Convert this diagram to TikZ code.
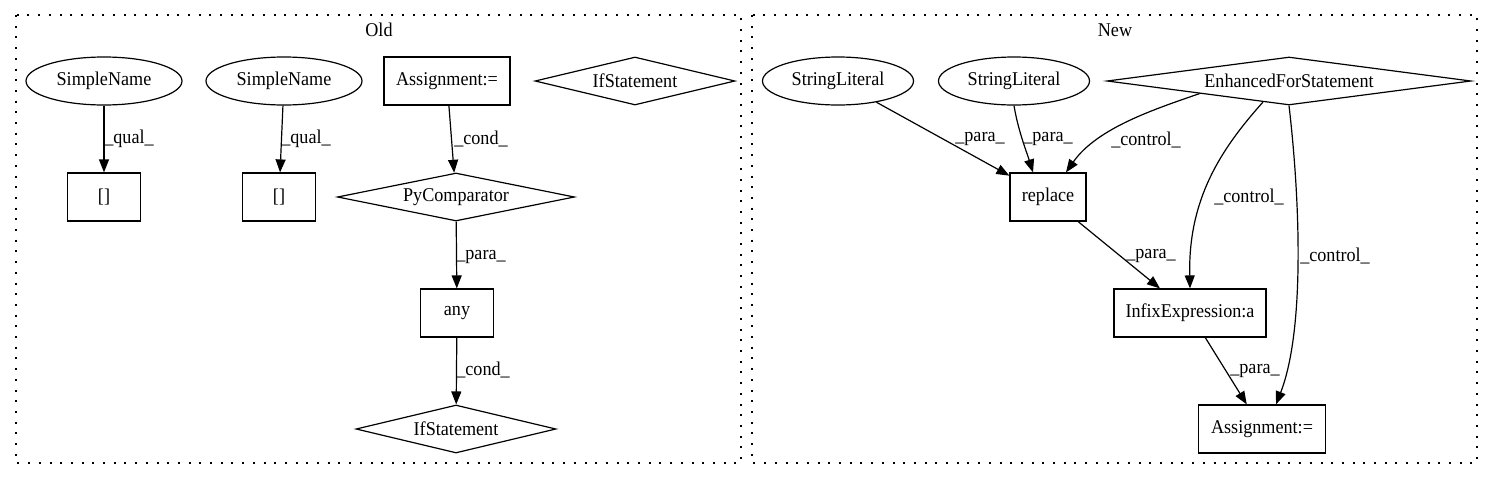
\documentclass[tikz,border=0pt]{standalone}
\usepackage{fontspec}
\setmainfont[FakeStretch=0.93]{Liberation Serif}
\usetikzlibrary{shapes.geometric,arrows.meta}

\begin{document}
\begin{tikzpicture}[x=1pt,y=-1pt,
    every node/.style={font=\fontsize{19.5}{23}\selectfont},
    box/.style={draw, rectangle, line width=1.2pt, minimum height=48pt, inner sep=0pt},
    ell/.style={draw, ellipse, line width=1.2pt, minimum height=48pt, inner sep=0pt},
    dia/.style={draw, diamond, line width=1.2pt, minimum height=48pt, inner sep=0pt},
    arr/.style={line width=1.2pt, -{Triangle[length=13pt,width=10pt]}},
    lbl/.style={inner sep=0pt},
    cluster/.style={line width=1.3pt, dash pattern=on 2pt off 8.7pt}]
    \useasboundingbox (0,0) rectangle (1485,480);

    % clusters
    \draw[cluster] (16,15) rectangle (741,463);
    \draw[cluster] (752,15) rectangle (1477,463);
    \node (old) at (379,30) {Old};
    \node (new) at (1115,30) {New};

    % old
    \node[ell, minimum width=156pt] (sn1) at (104,81) {SimpleName};
    \node[ell, minimum width=156pt] (sn2) at (284,81) {SimpleName};
    \node[box, minimum width=126pt] (asg) at (447,81) {Assignment:=};
    \node[dia, aspect=4.2, minimum width=200pt] (ifs1) at (635,81) {IfStatement};
    \node[box, minimum width=73pt] (br1) at (104,197) {[]};
    \node[box, minimum width=73pt] (br2) at (279,197) {[]};
    \node[dia, aspect=4.9, minimum width=237pt] (pyc) at (456,197) {PyComparator};
    \node[box, minimum width=73pt] (any) at (457,313) {any};
    \node[dia, aspect=4.2, minimum width=200pt] (ifs2) at (456,429) {IfStatement};

    \draw[arr] (sn1) -- (br1);
    \draw[arr] (sn2) -- (br2);
    \draw[arr] (asg) -- (pyc);
    \draw[arr] (pyc) -- (any);
    \draw[arr] (any) -- (ifs2);

    \node[lbl] (q1) at (129,139) {\_qual\_};
    \node[lbl] (q2) at (306,139) {\_qual\_};
    \node[lbl] (c1) at (481,139) {\_cond\_};
    \node[lbl] (p1) at (481,257) {\_para\_};
    \node[lbl] (c2) at (483,370) {\_cond\_};

    % new
    \node[ell, minimum width=151pt] (sl1) at (838,81) {StringLiteral};
    \node[ell, minimum width=151pt] (sl2) at (1014,81) {StringLiteral};
    \node[dia, aspect=7.6, minimum width=364pt] (efs) at (1289,81) {EnhancedForStatement};
    \node[box, minimum width=76pt] (rep) at (1048,197) {replace};
    \node[box, minimum width=152pt] (inf) at (1190,313) {InfixExpression:a};
    \node[box, minimum width=127pt] (asg2) at (1262,429) {Assignment:=};

    \draw[arr] (sl1) -- (rep);
    \draw[arr] (sl2.south) .. controls (1018,130) and (1026,150) .. ([xshift=-15pt]rep.north);
    \draw[arr] (efs.188) .. controls (1155,109) and (1097,128) .. ([xshift=18pt]rep.north);
    \draw[arr] (efs.219) .. controls (1220,150) and (1188,200) .. (inf.north);
    \draw[arr] (efs.south) .. controls (1300,200) and (1305,330) .. ([xshift=14pt]asg2.north);
    \draw[arr] (rep) -- (inf);
    \draw[arr] (inf) -- (asg2);

    \node[lbl] (pa1) at (980,139) {\_para\_};
    \node[lbl] (pa2) at (1048,139) {\_para\_};
    \node[lbl] (ct1) at (1146,140) {\_control\_};
    \node[lbl] (ct2) at (1249,197) {\_control\_};
    \node[lbl] (pa3) at (1151,256) {\_para\_};
    \node[lbl] (ct3) at (1335,256) {\_control\_};
    \node[lbl] (pa4) at (1255,371) {\_para\_};

\end{tikzpicture}
\end{document}
